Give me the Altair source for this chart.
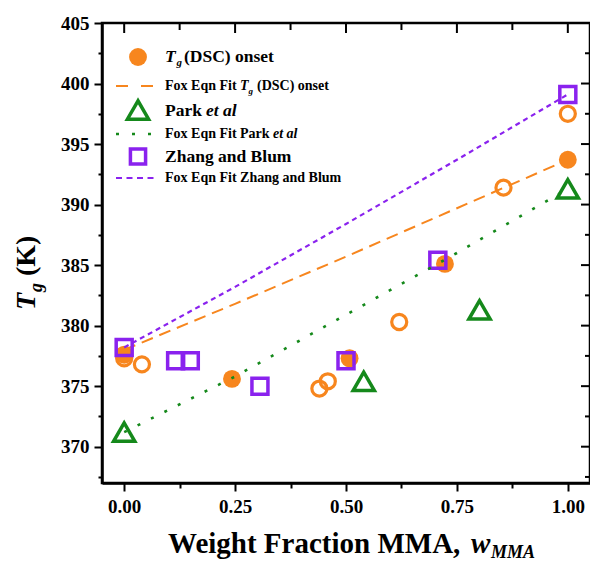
import altair as alt
import pandas as pd

# ---------------- data ----------------
dsc_w = [0.0, 0.243, 0.508, 0.723, 1.0]
dsc_tg = [377.6, 375.6, 377.3, 385.1, 393.7]
dsc_open_w = [0.0, 0.04, 0.44, 0.459, 0.62, 0.855, 1.0]
dsc_open_tg = [377.3, 376.8, 374.8, 375.4, 380.3, 391.4, 397.5]
park_w = [0.0, 0.54, 0.801, 1.0]
park_tg = [371.2, 375.4, 381.3, 391.3]
zhang_w = [0.0, 0.116, 0.149, 0.306, 0.50, 0.707, 1.0]
zhang_tg = [378.2, 377.1, 377.1, 375.0, 377.1, 385.4, 399.1]
fit_w = [0.0, 0.25, 0.5, 0.75, 1.0]
fit_dsc = [378.0, 381.8, 385.7, 389.7, 393.7]
fit_park = [371.2, 375.8, 380.9, 386.0, 391.3]
fit_zhang = [378.2, 383.2, 388.4, 393.7, 399.1]

x_major_ticks = [0.0, 0.25, 0.5, 0.75, 1.0]
x_minor_ticks = [0.125, 0.375, 0.625, 0.875]
y_major_ticks = [370, 375, 380, 385, 390, 395, 400, 405]
y_minor_ticks = [367.5, 372.5, 377.5, 382.5, 387.5, 392.5, 397.5, 402.5]

legend_big = ["(DSC) onset", "Park", "et al", "Zhang and Blum"]
legend_small = ["Fox Eqn Fit", "(DSC) onset", "Fox Eqn Fit Park", "et al",
                "Fox Eqn Fit Zhang and Blum"]
x_title = ["Weight Fraction MMA,", "w", "MMA"]
y_title = ["T", "g", "(K)"]

# ---------------- styling ----------------
ORANGE = "#F7861E"
GREEN = "#15891B"
PURPLE = "#8A22EE"
FONT = "Liberation Serif"
W, H = 488, 460

xs = alt.Scale(domain=[-0.05, 1.05], nice=False, zero=False)
ys = alt.Scale(domain=[367, 405], nice=False, zero=False)

XMAJ = "abs(datum.value*4 - round(datum.value*4)) < 0.001"
YMAJ = "abs(datum.value/5 - round(datum.value/5)) < 0.001"

common = dict(title=None, grid=False, domainColor="black", domainWidth=2.5,
              tickColor="black", tickWidth=2, labelFont=FONT,
              labelFontWeight="bold", labelFontSize=19, labelColor="black",
              labelOverlap=False, labelFlush=False)

x_main = alt.Axis(orient="bottom", values=sorted(x_major_ticks + x_minor_ticks),
                  tickSize={"condition": {"test": XMAJ, "value": 8}, "value": 5},
                  labelExpr=f"{XMAJ} ? format(datum.value, '.2f') : ''",
                  labelPadding=6, **common)
y_main = alt.Axis(orient="left", values=sorted(y_major_ticks + y_minor_ticks),
                  tickSize={"condition": {"test": YMAJ, "value": 8}, "value": 4},
                  labelExpr=f"{YMAJ} ? format(datum.value, 'd') : ''",
                  labelPadding=5, **common)


def frame(xv, yv):
    return pd.DataFrame({"w": xv, "tg": yv})


def enc(xaxis=None, yaxis=None):
    return dict(x=alt.X("w:Q", scale=xs, axis=xaxis),
                y=alt.Y("tg:Q", scale=ys, axis=yaxis))


dummy = pd.DataFrame({"k": [0]})


def txt(s, x, y, size, italic=False, angle=None, baseline="middle"):
    kw = dict(align="left", baseline=baseline, font=FONT, fontSize=size,
              fontWeight="bold", color="black")
    if italic:
        kw["fontStyle"] = "italic"
    if angle is not None:
        kw["angle"] = angle
    return alt.Chart(dummy).mark_text(**kw).encode(
        x=alt.value(x), y=alt.value(y), text=alt.value(s))


# ---------------- inward ticks on the top and right frame ----------------
def top_ticks(vals, length):
    return alt.Chart(pd.DataFrame({"v": vals})).mark_rule(
        color="black", strokeWidth=2).encode(
        x=alt.X("v:Q", scale=xs, axis=None), y=alt.value(0), y2=alt.value(length))


def right_ticks(vals, length):
    return alt.Chart(pd.DataFrame({"v": vals})).mark_rule(
        color="black", strokeWidth=2).encode(
        y=alt.Y("v:Q", scale=ys, axis=None), x=alt.value(W), x2=alt.value(W - length))


ticks = [top_ticks(x_major_ticks, 10), top_ticks(x_minor_ticks, 7),
         right_ticks(y_major_ticks, 9), right_ticks(y_minor_ticks, 5)]

# ---------------- data layers ----------------
fit_dsc_l = alt.Chart(frame(fit_w, fit_dsc)).mark_line(
    color=ORANGE, strokeDash=[12, 7], strokeWidth=2).encode(**enc(x_main, y_main))
fit_park_l = alt.Chart(frame(fit_w, fit_park)).mark_line(
    color=GREEN, strokeDash=[3, 12], strokeWidth=2.6).encode(**enc())
fit_zhang_l = alt.Chart(frame(fit_w, fit_zhang)).mark_line(
    color=PURPLE, strokeDash=[5, 4], strokeWidth=2.2).encode(**enc())

open_c = alt.Chart(frame(dsc_open_w, dsc_open_tg)).mark_point(
    shape="circle", filled=False, size=227, strokeWidth=3.2, color=ORANGE,
    opacity=1).encode(**enc())
filled_c = alt.Chart(frame(dsc_w, dsc_tg)).mark_point(
    shape="circle", filled=True, size=320, color=ORANGE, opacity=1).encode(**enc())
tri = alt.Chart(frame(park_w, park_tg)).mark_point(
    shape="triangle-up", filled=False, size=450, strokeWidth=3.5, color=GREEN,
    opacity=1).encode(**enc())
sq = alt.Chart(frame(zhang_w, zhang_tg)).mark_point(
    shape="square", filled=False, size=256, strokeWidth=3.5, color=PURPLE,
    opacity=1).encode(**enc())

# ---------------- legend (inside plot, top-left) ----------------
LX, TX = 36, 63
leg = [
    alt.Chart(dummy).mark_point(shape="circle", filled=True, size=320, color=ORANGE,
                                opacity=1).encode(x=alt.value(LX), y=alt.value(34)),
    alt.Chart(dummy).mark_rule(color=ORANGE, strokeDash=[12, 13], strokeWidth=2.2).encode(
        x=alt.value(14), x2=alt.value(52), y=alt.value(63)),
    alt.Chart(dummy).mark_point(shape="triangle-up", filled=False, size=450, strokeWidth=3.5,
                                color=GREEN, opacity=1).encode(x=alt.value(LX), y=alt.value(87)),
    alt.Chart(dummy).mark_rule(color=GREEN, strokeDash=[3, 13], strokeWidth=2.6).encode(
        x=alt.value(14), x2=alt.value(52), y=alt.value(111)),
    alt.Chart(dummy).mark_point(shape="square", filled=False, size=230, strokeWidth=3.5,
                                color=PURPLE, opacity=1).encode(x=alt.value(LX), y=alt.value(133.5)),
    alt.Chart(dummy).mark_rule(color=PURPLE, strokeDash=[6, 4.5], strokeWidth=2.2).encode(
        x=alt.value(14), x2=alt.value(52), y=alt.value(155)),
    # row 1
    txt("T", TX, 34, 17.5, italic=True),
    txt("g", 74.5, 40, 11, italic=True),
    txt(legend_big[0], 82, 34, 17.5),
    # row 2
    txt(legend_small[0], TX, 63, 14),
    txt("T", 138, 63, 14, italic=True),
    txt("g", 146.5, 67.5, 9, italic=True),
    txt(legend_small[1], 155, 63, 14),
    # row 3
    txt(legend_big[1], TX, 87.5, 17.5),
    txt(legend_big[2], 104, 87.5, 17.5, italic=True),
    # row 4
    txt(legend_small[2], TX, 111, 14),
    txt(legend_small[3], 171, 111, 14, italic=True),
    # row 5
    txt(legend_big[3], TX, 133.5, 17.5),
    # row 6
    txt(legend_small[4], TX, 155, 14),
]

# ---------------- axis titles (rich text) ----------------
titles = [
    txt(x_title[0], 66, 530, 29, baseline="alphabetic"),
    txt(x_title[1], 369, 530, 29, italic=True, baseline="alphabetic"),
    txt(x_title[2], 389, 534.5, 18, italic=True, baseline="alphabetic"),
    txt(y_title[0], -67, 287, 28, italic=True, angle=270, baseline="alphabetic"),
    txt(y_title[1], -60, 269, 18, italic=True, angle=270, baseline="alphabetic"),
    txt(y_title[2], -67, 253, 28, angle=270, baseline="alphabetic"),
]

chart = alt.layer(
    fit_dsc_l, open_c, filled_c, tri, sq, fit_park_l, fit_zhang_l,
    *ticks, *leg, *titles
).resolve_axis(x="independent", y="independent").properties(
    width=W, height=H,
    autosize=alt.AutoSizeParams(type="none"),
    padding={"left": 94, "top": 15, "right": 0, "bottom": 78},
    background="white",
).configure_view(stroke="black", strokeWidth=2.5)

chart.save("out.html", embed_options={"renderer": "svg", "actions": False})
